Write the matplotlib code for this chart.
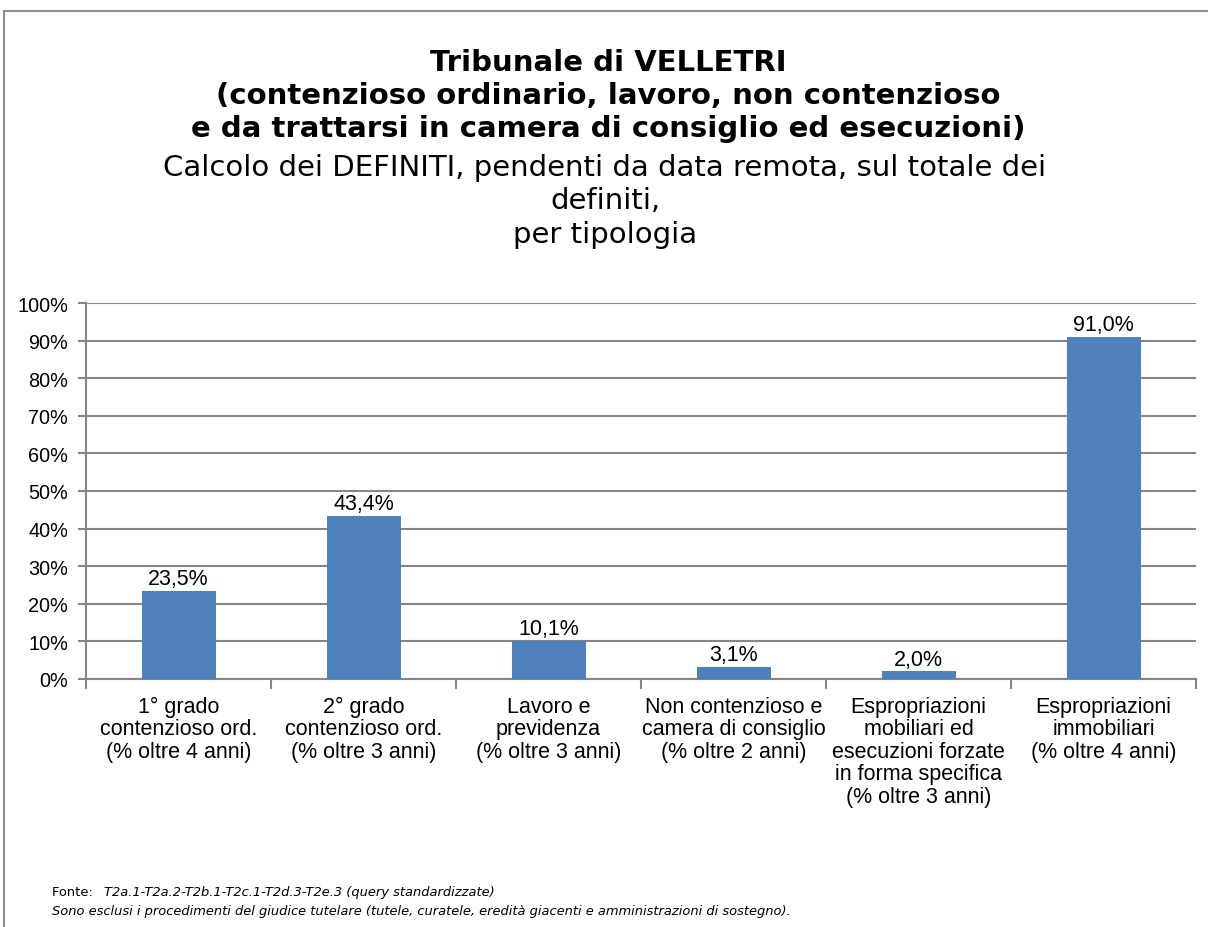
import matplotlib.pyplot as plt
import numpy as np
from matplotlib.patches import Rectangle
from matplotlib.ticker import PercentFormatter

categorie = ["1° grado\ncontenzioso ord.\n(% oltre 4 anni)",
             "2° grado\ncontenzioso ord.\n(% oltre 3 anni)",
             "Lavoro e\nprevidenza\n(% oltre 3 anni)",
             "Non contenzioso e\ncamera di consiglio\n(% oltre 2 anni)",
             "Espropriazioni\nmobiliari ed\nesecuzioni forzate\nin forma specifica\n(% oltre 3 anni)",
             "Espropriazioni\nimmobiliari\n(% oltre 4 anni)"]
valori = [23.5, 43.4, 10.1, 3.1, 2.0, 91.0]
etichette = ["23,5%", "43,4%", "10,1%", "3,1%", "2,0%", "91,0%"]

W, H = 1208, 928
fig = plt.figure(figsize=(W / 100, H / 100), dpi=100)

# cornice del grafico
fig.patches.append(Rectangle((4 / W, -0.05), 1.05, 1 - 12 / H + 0.05,
                             transform=fig.transFigure, fill=False,
                             edgecolor="#8c8c8c", linewidth=1.5))

ax = fig.add_axes([86 / W, 1 - 680 / H, (1196 - 86) / W, (680 - 304) / H])
x = np.arange(len(valori))
ax.bar(x, valori, width=0.4, color="#4F81BD", zorder=3)
for xi, v, t in zip(x, valori, etichette):
    ax.text(xi, v + 0.5, t, ha="center", va="bottom", fontsize=15.5,
            family="Liberation Sans", color="#000000")

ax.set_xlim(-0.5, len(valori) - 0.5)
ax.set_ylim(0, 100)
ax.set_yticks(np.arange(0, 101, 10))
ax.yaxis.set_major_formatter(PercentFormatter(decimals=0))
ax.yaxis.grid(True, color="#868686", linewidth=1.5, zorder=0)
ax.set_xticks(x)
ax.set_xticklabels(categorie, fontsize=15.5, family="Liberation Sans", linespacing=1.1)
ax.set_xticks(np.arange(-0.5, len(valori), 1), minor=True)
ax.tick_params(axis="x", which="major", length=0, pad=12)
ax.tick_params(axis="x", which="minor", length=7, color="#868686", width=1.5)
ax.tick_params(axis="y", length=6, color="#868686", width=1.5, labelsize=14.3, pad=7)
for lab in ax.get_yticklabels():
    lab.set_family("Liberation Sans")
for s in ["top", "right"]:
    ax.spines[s].set_visible(False)
ax.spines["left"].set_color("#868686")
ax.spines["left"].set_linewidth(1.5)
ax.spines["bottom"].set_color("#868686")
ax.spines["bottom"].set_linewidth(1.5)

# titolo
cx = 608 / W
righe_bold = ["Tribunale di VELLETRI",
              "(contenzioso ordinario, lavoro, non contenzioso",
              "e da trattarsi in camera di consiglio ed esecuzioni)"]
for i, r in enumerate(righe_bold):
    fig.text(cx, 1 - (63 + 33 * i) / H, r, ha="center", va="center",
             fontsize=21, fontweight="bold", family="DejaVu Sans")
righe = ["Calcolo dei DEFINITI, pendenti da data remota, sul totale dei",
         "definiti,", "per tipologia"]
for i, r in enumerate(righe):
    fig.text(cx - 3 / W, 1 - (168 + 33.5 * i) / H, r, ha="center", va="center",
             fontsize=21, family="DejaVu Sans")

# note
fig.text(52 / W, 1 - 893 / H, "Fonte: ", ha="left", va="center", fontsize=9.4,
         family="DejaVu Sans")
fig.text(104 / W, 1 - 893 / H, "T2a.1-T2a.2-T2b.1-T2c.1-T2d.3-T2e.3 (query standardizzate)",
         ha="left", va="center", fontsize=9.4, style="italic", family="DejaVu Sans")
fig.text(52 / W, 1 - 912 / H,
         "Sono esclusi i procedimenti del giudice tutelare (tutele, curatele, eredità giacenti e amministrazioni di sostegno).",
         ha="left", va="center", fontsize=9.4, style="italic", family="DejaVu Sans")

fig.savefig("out.png", dpi=100)
